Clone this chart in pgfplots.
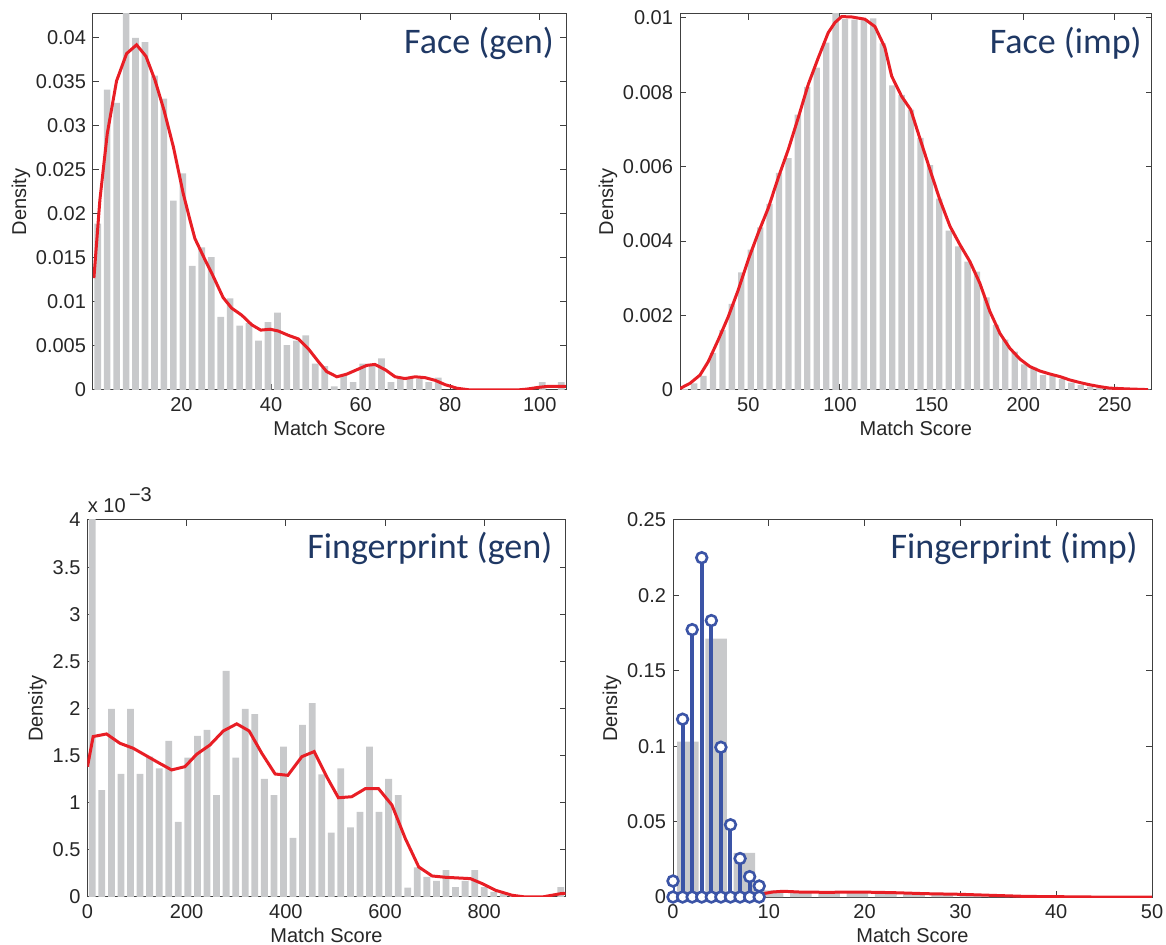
\documentclass[border=0pt]{standalone}
\usepackage{fontspec}
\setmainfont{Liberation Sans}
\newfontfamily\titlefont{Carlito}
\usepackage{pgfplots}
\usepackage{pgfplotstable}
\pgfplotsset{compat=1.18}

\definecolor{bargray}{RGB}{200,201,203}
\definecolor{kred}{RGB}{232,30,37}
\definecolor{stemblue}{RGB}{59,84,166}
\definecolor{navy}{RGB}{31,56,100}
\definecolor{axgray}{RGB}{64,64,64}

\pgfplotsset{
  panel/.style={
    scale only axis, anchor=north west,
    axis line style={axgray, line width=0.5pt},
    every tick/.style={axgray, line width=0.5pt},
    tickpos=both, ticklabel pos=left, tick align=inside,
    major tick length=3pt,
    ticklabel style={font=\fontsize{10}{12}\selectfont, text=black!85},
    /pgf/number format/assume math mode=true,
    scaled ticks=false,
    yticklabel style={/pgf/number format/fixed, /pgf/number format/precision=3},
    xlabel={Match Score}, ylabel={Density},
    label style={font=\fontsize{10}{12}\selectfont, text=black!85},
    xlabel style={yshift=2pt},
    ylabel shift=-4pt,
    ymin=0,
  },
  hist/.style={ybar, fill=bargray, draw=none, bar width=#1},
  kde/.style={kred, line width=1.5pt, no markers},
}
\tikzset{
  ttl/.style={anchor=base east, inner sep=0pt, text=navy,
    font=\titlefont\fontsize{18}{21}\selectfont},
}

% Face (gen)
\pgfplotstableread{
x y
1.30 0.0189
3.41 0.0341
5.52 0.0326
7.64 0.0435
9.75 0.0400
11.86 0.0395
13.97 0.0357
16.08 0.0331
18.20 0.0215
20.31 0.0246
22.42 0.0141
24.53 0.0162
26.64 0.0151
28.76 0.0083
30.87 0.0104
32.98 0.0073
35.09 0.0076
37.20 0.0056
39.32 0.0077
41.43 0.0088
43.54 0.0051
45.65 0.0056
47.76 0.0062
49.88 0.0030
51.99 0.0027
54.10 0.0004
56.21 0.0016
58.32 0.0009
60.44 0.0030
62.55 0.0028
64.66 0.0036
66.77 0.0009
68.88 0.0013
71.00 0.0013
73.11 0.0013
75.22 0.0009
77.33 0.0014
100.56 0.0009
104.79 0.0009
}\facegenbars
\pgfplotstableread{
x y
0.45 0.0127
1.79 0.0216
3.43 0.0291
5.51 0.0351
7.75 0.0382
9.98 0.0392
12.07 0.0379
14.08 0.0352
16.09 0.0318
18.2 0.0276
20.4 0.0223
21.9 0.0193
23.0 0.0172
25.25 0.0148
27.1 0.0129
29.3 0.0105
31.2 0.0093
33.45 0.0085
35.7 0.0074
37.7 0.0068
39.8 0.0069
41.6 0.0067
43.9 0.0062
46.1 0.0058
48.3 0.0047
50.6 0.0032
52.4 0.0021
54.7 0.0015
56.9 0.0018
59.15 0.0023
61.4 0.0028
63.2 0.0029
65.5 0.0023
67.7 0.0015
69.9 0.0013
72.2 0.0015
74.4 0.0014
76.6 0.0011
78.9 0.0006
81.5 0.0002
84.5 0
94.9 0
97.1 0.0001
99.7 0.0003
101.6 0.0004
105.8 0.0004
}\facegenkde

% Face (imp)
\pgfplotstableread{
x y
15.27 0.00003
20.42 0.00018
25.56 0.00038
30.71 0.00100
35.85 0.00161
41.00 0.00231
46.15 0.00316
51.29 0.00377
56.44 0.00437
61.58 0.00500
66.73 0.00583
71.88 0.00623
77.02 0.00740
82.17 0.00814
87.31 0.00866
92.46 0.00933
97.61 0.01020
102.75 0.00996
107.90 0.00995
113.04 0.00995
118.19 0.00998
123.34 0.00931
128.48 0.00818
133.63 0.00793
138.77 0.00753
143.92 0.00677
149.07 0.00604
154.21 0.00514
159.36 0.00428
164.50 0.00386
169.65 0.00345
174.80 0.00318
179.94 0.00249
185.09 0.00175
190.23 0.00135
195.38 0.00103
200.53 0.00069
205.67 0.00060
210.82 0.00040
215.96 0.00038
221.11 0.00029
226.26 0.00020
231.40 0.00013
236.55 0.00009
241.69 0.00006
246.84 0.00004
251.99 0.00003
257.13 0.00002
262.28 0.00001
267.42 0.00001
}\faceimpbars
\pgfplotstableread{
x y
12.7 0.00004
18.15 0.00018
23.6 0.0004
28.1 0.00076
33.6 0.00135
39.05 0.00197
44.5 0.00269
49.95 0.0035
55.4 0.00422
60.9 0.00489
66.3 0.0057
71.8 0.00646
77.2 0.00731
82.7 0.00821
88.2 0.00893
93.6 0.0096
97.25 0.00987
100.9 0.01003
106.4 0.01002
113.6 0.00996
119.1 0.00976
124.5 0.0092
128.2 0.00843
133.6 0.00789
138.6 0.00753
143.6 0.00676
149.1 0.00592
154.5 0.00511
160 0.0044
165.5 0.0039
170.9 0.00345
176.3 0.00287
181.8 0.00211
187.3 0.00152
192.7 0.00112
198.2 0.00083
203.6 0.00063
209.1 0.00051
214.5 0.00043
220 0.00036
225.4 0.00027
230.9 0.0002
236.3 0.00014
241.8 0.00009
247.2 0.00005
256.3 0.00003
268.1 0.00001
}\faceimpkde

% Fingerprint (gen), values in units of 1e-3
\pgfplotstableread{
x y
9.64 4.3
28.92 1.135
48.20 1.996
67.48 1.305
86.76 1.996
106.04 1.305
125.32 1.489
144.60 1.365
163.88 1.656
183.16 0.798
202.44 1.479
221.72 1.709
241.00 1.773
260.28 1.082
279.56 2.40
298.84 1.479
318.12 1.996
337.40 1.94
356.68 1.252
375.96 1.082
395.24 1.596
414.52 0.628
433.80 1.826
453.08 2.057
472.36 1.30
491.64 0.684
510.92 1.365
530.20 0.738
549.48 0.904
568.76 1.596
588.04 0.904
607.32 1.252
626.60 1.082
645.88 0.10
665.16 0.315
684.44 0.213
703.72 0.17
723.00 0.284
742.28 0.106
761.56 0.17
780.84 0.284
800.12 0.106
819.40 0.053
838.68 0.035
857.96 0.018
877.24 0.01
954.36 0.106
}\fpgenbars
\pgfplotstableread{
x y
0 1.383
11.4 1.702
38.3 1.73
65.3 1.631
92.2 1.578
115.8 1.507
139.4 1.436
169.6 1.348
196.6 1.383
220.1 1.514
247 1.613
274 1.762
301 1.837
325.9 1.762
351.5 1.525
378.4 1.305
404 1.291
432.3 1.489
457.2 1.543
482 1.28
506 1.053
533 1.064
560 1.149
587 1.149
614 0.975
641 0.62
668 0.319
695 0.223
722 0.209
772 0.195
796 0.142
823 0.071
856.6 0.018
883 0
917 0
954 0.035
964 0.04
}\fpgenkde

% Fingerprint (imp)
\pgfplotstableread{
x y
1.55 0.1031
4.50 0.1713
7.45 0.0293
10.40 0.0044
13.35 0.0025
16.30 0.0025
19.25 0.0028
22.20 0.0025
25.15 0.0022
28.10 0.0020
31.05 0.0018
34.00 0.0012
36.95 0.0008
39.90 0.0005
42.85 0.0003
45.80 0.0002
48.75 0.0001
}\fpimpbars
\pgfplotstableread{
x y
0 0.0002
4 0.0003
8.5 0.0008
9.03 0.0018
10.4 0.0033
11.5 0.0038
13.2 0.0033
16 0.0031
19.4 0.0033
22.9 0.0029
26.4 0.0022
29.9 0.0018
33.3 0.0011
36.8 0.0004
40.3 0.0002
43.7 0
50 0
}\fpimpkde
\pgfplotstableread{
x y base
0 0.0106 0
1 0.1179 0
2 0.1773 0
3 0.2250 0
4 0.1833 0
5 0.0993 0
6 0.0479 0
7 0.0255 0
8 0.0135 0
9 0.0073 0
}\fpimpstem

\begin{document}
\begin{tikzpicture}
\useasboundingbox (0,0) rectangle (583pt,-472.5pt);

\begin{axis}[panel, at={(46.5pt,-7pt)}, width=236.5pt, height=188pt,
  xmin=0.25, xmax=105.85, ymax=0.0427,
  xtick={20,40,60,80,100},
  ytick={0,0.005,0.01,0.015,0.02,0.025,0.03,0.035,0.04}]
\addplot[hist=1.49] table {\facegenbars};
\addplot[kde] table {\facegenkde};
\node[ttl] at (rel axis cs:0.975,0.8955) {Face (gen)};
\end{axis}

\begin{axis}[panel, at={(340pt,-7pt)}, width=235.75pt, height=188pt,
  xmin=12.7, xmax=270, ymax=0.0101,
  xtick={50,100,150,200,250},
  ytick={0,0.002,0.004,0.006,0.008,0.01}]
\addplot[hist=3.45] table {\faceimpbars};
\addplot[kde] table {\faceimpkde};
\node[ttl] at (rel axis cs:0.98,0.8955) {Face (imp)};
\end{axis}

\begin{axis}[panel, name=fpgen, at={(43.75pt,-260pt)}, width=239pt, height=188.5pt,
  xmin=0, xmax=964, ymax=4,
  xtick={0,200,400,600,800},
  ytick={0,0.5,1,1.5,2,2.5,3,3.5,4}]
\addplot[hist=13.7] table {\fpgenbars};
\addplot[kde] table {\fpgenkde};
\node[ttl] at (rel axis cs:0.973,0.898) {Fingerprint (gen)};
\end{axis}
\node[anchor=base west, inner sep=0pt, text=black!85,
  font=\fontsize{10}{12}\selectfont] at ([yshift=3.5pt]fpgen.north west)
  {x 10\,\raisebox{1.1ex}{−3}};

\begin{axis}[panel, at={(336.5pt,-260pt)}, width=239.5pt, height=188.5pt,
  xmin=0, xmax=50, ymax=0.25,
  xtick={0,10,20,30,40,50},
  ytick={0,0.05,0.1,0.15,0.2,0.25}]
\addplot[hist=2.26] table {\fpimpbars};
\addplot[kde] table {\fpimpkde};
\addplot[ycomb, draw=stemblue, line width=2pt, mark=*,
  mark size=2.7pt, mark options={fill=white, draw=stemblue, line width=1.3pt}]
  table {\fpimpstem};
\addplot[only marks, mark=*, mark size=2.7pt,
  mark options={fill=white, draw=stemblue, line width=1.3pt}]
  table[x=x, y=base] {\fpimpstem};
\node[ttl] at (rel axis cs:0.971,0.898) {Fingerprint (imp)};
\end{axis}
\end{tikzpicture}
\end{document}
